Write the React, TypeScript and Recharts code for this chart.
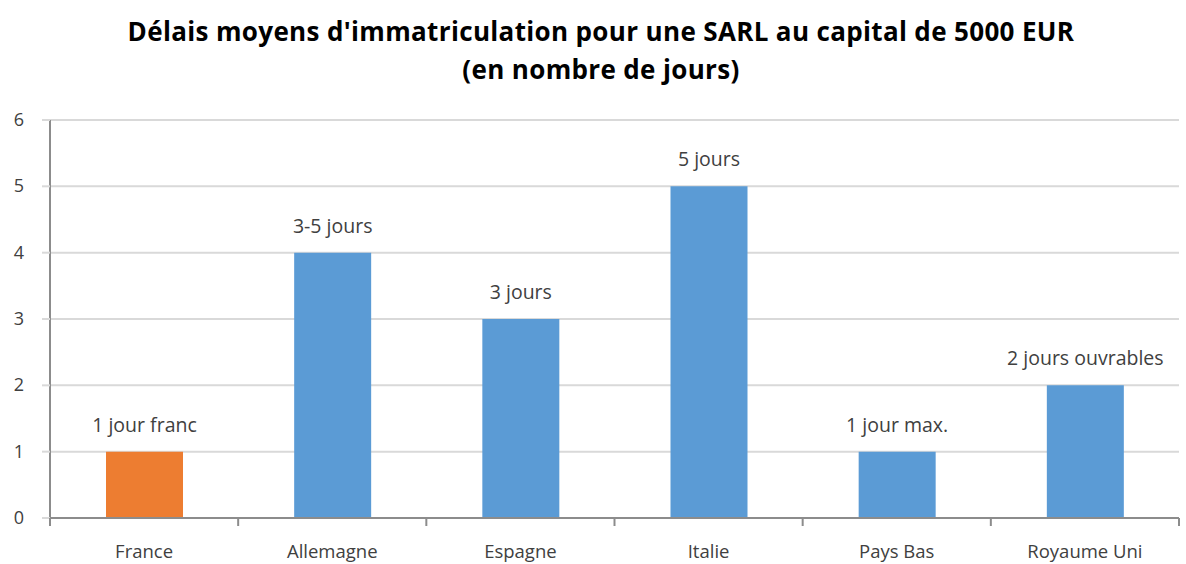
import { BarChart, Bar, XAxis, YAxis, CartesianGrid, Cell, LabelList } from 'recharts'

const countries = ['France', 'Allemagne', 'Espagne', 'Italie', 'Pays Bas', 'Royaume Uni']
const days = [1, 4, 3, 5, 1, 2]
const dayLabels = ['1 jour franc', '3-5 jours', '3 jours', '5 jours', '1 jour max.', '2 jours ouvrables']
const yTicks = [0, 1, 2, 3, 4, 5, 6]

const FONT = '"Open Sans", "Noto Sans", sans-serif'
const ORANGE = '#ED7D31'
const BLUE = '#5B9BD5'
const AXIS = '#8c8c8c'
const GRID = '#d9d9d9'
const TEXT = '#404040'

const data = countries.map((name, i) => ({ name, value: days[i], label: dayLabels[i] }))

const PLOT_W = 1186 - 50 - 7
const BAND = PLOT_W / countries.length

function CategoryTick(props: any) {
  const { x, y, payload, index } = props
  return (
    <g>
      <line x1={x - BAND / 2} y1={y - 8} x2={x - BAND / 2} y2={y} stroke={AXIS} strokeWidth={2} />
      {index === countries.length - 1 && (
        <line x1={x + BAND / 2} y1={y - 8} x2={x + BAND / 2} y2={y} stroke={AXIS} strokeWidth={2} />
      )}
      <text x={x} y={y + 32} textAnchor="middle" fill={TEXT} fontSize={18.5} fontFamily={FONT}>
        {payload.value}
      </text>
    </g>
  )
}

function ValueTick(props: any) {
  const { x, y, payload } = props
  return (
    <text x={x} y={y} dy={6} textAnchor="end" fill={TEXT} fontSize={18} fontFamily={FONT}>
      {payload.value}
    </text>
  )
}

function BarLabel(props: any) {
  const { x, y, width, value } = props
  return (
    <text x={x + width / 2} y={y - 20} textAnchor="middle" fill={TEXT} fontSize={19.5} fontFamily={FONT}>
      {value}
    </text>
  )
}

export default function App() {
  return (
    <div style={{ position: 'absolute', top: 0, left: 0, width: 1186, height: 564, background: '#fff' }}>
      <div
        style={{
          position: 'absolute',
          top: 12,
          left: 0,
          width: 1202,
          textAlign: 'center',
          fontFamily: FONT,
          fontWeight: 700,
          fontSize: 26,
          lineHeight: '38px',
          color: '#000',
          letterSpacing: 0.35,
          zIndex: 1,
        }}
      >
        Délais moyens d'immatriculation pour une SARL au capital de 5000 EUR
        <br />
        (en nombre de jours)
      </div>
      <BarChart
        width={1186}
        height={564}
        data={data}
        margin={{ top: 120, right: 7, bottom: 0, left: 8 }}
        style={{ overflow: 'visible' }}
      >
        <CartesianGrid vertical={false} stroke={GRID} strokeWidth={2} />
        <YAxis
          domain={[0, 6]}
          ticks={yTicks}
          interval={0}
          width={42}
          axisLine={{ stroke: AXIS, strokeWidth: 2 }}
          tickLine={{ stroke: GRID, strokeWidth: 2 }}
          tickSize={8}
          tickMargin={18}
          tick={<ValueTick />}
        />
        <XAxis
          dataKey="name"
          axisLine={{ stroke: AXIS, strokeWidth: 2 }}
          tickLine={false}
          interval={0}
          height={46}
          tick={<CategoryTick />}
        />
        <Bar dataKey="value" barSize={77} isAnimationActive={false}>
          {data.map((d, i) => (
            <Cell key={d.name} fill={i === 0 ? ORANGE : BLUE} />
          ))}
          <LabelList dataKey="label" content={<BarLabel />} />
        </Bar>
      </BarChart>
    </div>
  )
}
